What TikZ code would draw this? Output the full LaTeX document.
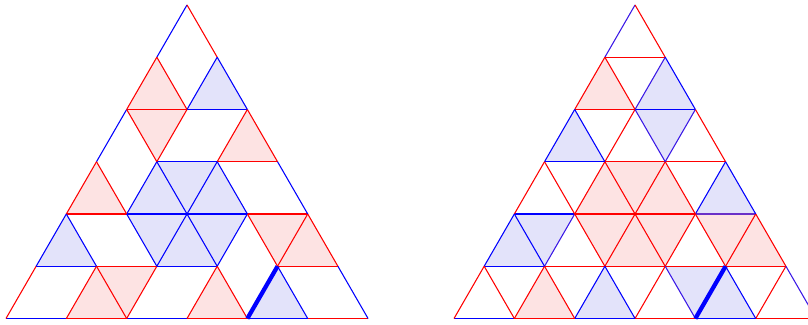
\documentclass[tikz,border=0pt]{standalone}
\usepackage{tikz}
\usepackage{xcolor}
\definecolor{PR}{HTML}{FF0000}
\definecolor{PB}{HTML}{0000FF}
\definecolor{PV}{HTML}{6A30C8}
\definecolor{PW}{HTML}{3A18E6}
\definecolor{FR}{HTML}{FDE3E3}
\definecolor{FB}{HTML}{E3E3FA}

% lattice points (name i-j), row j from the base
\newcommand{\grid}[2]{%
  \foreach \j in {0,...,6}{
    \pgfmathtruncatemacro{\imax}{6-\j}
    \foreach \i in {0,...,\imax}
      \coordinate (#1\i-\j) at ({#2+\i+0.5*\j},{0.091+0.866*\j});
  }}
\newcommand{\upfill}[3]{\foreach \i/\j in {#3}{%
    \pgfmathtruncatemacro{\ia}{\i+1}\pgfmathtruncatemacro{\ja}{\j+1}%
    \fill[#2] (#1\i-\j) -- (#1\ia-\j) -- (#1\i-\ja) -- cycle;}}
\newcommand{\dnfill}[3]{\foreach \i/\j in {#3}{%
    \pgfmathtruncatemacro{\ia}{\i+1}\pgfmathtruncatemacro{\ja}{\j+1}%
    \fill[#2] (#1\ia-\j) -- (#1\ia-\ja) -- (#1\i-\ja) -- cycle;}}
\newcommand{\edgeh}[3]{\foreach \i/\j in {#3}{%
    \pgfmathtruncatemacro{\ia}{\i+1}%
    \draw[#2] (#1\i-\j) -- (#1\ia-\j);}}
\newcommand{\edgep}[3]{\foreach \i/\j in {#3}{%
    \pgfmathtruncatemacro{\ja}{\j+1}%
    \draw[#2] (#1\i-\j) -- (#1\i-\ja);}}
\newcommand{\edgeq}[3]{\foreach \i/\j in {#3}{%
    \pgfmathtruncatemacro{\ia}{\i+1}\pgfmathtruncatemacro{\ja}{\j+1}%
    \draw[#2] (#1\ia-\j) -- (#1\i-\ja);}}

\tikzset{
  redge/.style={draw=PR, line width=0.5pt},
  bedge/.style={draw=PB, line width=0.5pt},
  vedge/.style={draw=PV, line width=0.5pt},
  wedge/.style={draw=PW, line width=0.5pt},
  markedge/.style={draw=PB, line width=2pt},
  rfill/.style={fill=FR},
  bfill/.style={fill=FB}
}

\begin{document}
\begin{tikzpicture}
  \useasboundingbox (0,0) rectangle (13.389,5.369);
  \grid{A}{0.099}
  \grid{B}{7.523}

  % left puzzle
  \upfill{A}{rfill}{0/4,2/3,0/2,4/1,1/0,3/0}
  \dnfill{A}{rfill}{0/3,3/1,1/0}
  \upfill{A}{bfill}{1/4,1/2,2/2,0/1,2/1,4/0}
  \dnfill{A}{bfill}{1/2,1/1,2/1}
  \edgeh{A}{redge}{0/4,2/3,0/2,3/2,1/1,4/1,1/0,3/0,5/0}
  \edgeh{A}{bedge}{1/4,1/3,1/2,2/2,0/1,2/1,0/0,2/0,4/0}
  \edgep{A}{redge}{0/4,1/3,2/3,0/2,4/1,0/0,1/0,2/0,3/0}
  \edgep{A}{bedge}{0/5,1/4,0/3,1/2,2/2,0/1,2/1,3/1}
  \edgeq{A}{redge}{0/5,0/4,0/3,2/3,0/2,3/1,4/1,1/0,3/0}
  \edgeq{A}{bedge}{1/4,1/2,2/2,3/2,0/1,1/1,2/1,4/0,5/0}
  \edgep{A}{markedge}{4/0}

  % right puzzle
  \upfill{B}{rfill}{0/4,1/2,2/2,2/1,4/1,1/0}
  \dnfill{B}{rfill}{1/2,1/1,2/1,3/1}
  \upfill{B}{bfill}{1/4,0/3,3/2,0/1,2/0,4/0}
  \dnfill{B}{bfill}{1/3,0/1,3/0}
  \edgeh{B}{redge}{0/5,0/4,1/3,2/3,1/2,2/2,1/1,2/1,3/1,4/1,1/0,3/0,5/0}
  \edgeh{B}{bedge}{1/4,0/3,0/2,0/1,0/0,2/0,4/0}
  \edgeh{B}{vedge}{3/2}
  \edgep{B}{redge}{0/4,1/3,0/2,1/2,2/2,2/1,3/1,4/1,0/0,1/0,3/0,5/0}
  \edgep{B}{bedge}{0/3,3/2,0/1,2/0}
  \edgep{B}{wedge}{0/5,1/4,2/3,1/1}
  \edgeq{B}{redge}{0/5,0/4,2/3,0/2,1/2,2/2,1/1,2/1,3/1,4/1,0/0,1/0}
  \edgeq{B}{bedge}{1/4,0/3,3/2,0/1,2/0,4/0}
  \edgeq{B}{wedge}{1/3,3/0,5/0}
  \edgep{B}{markedge}{4/0}
\end{tikzpicture}
\end{document}
